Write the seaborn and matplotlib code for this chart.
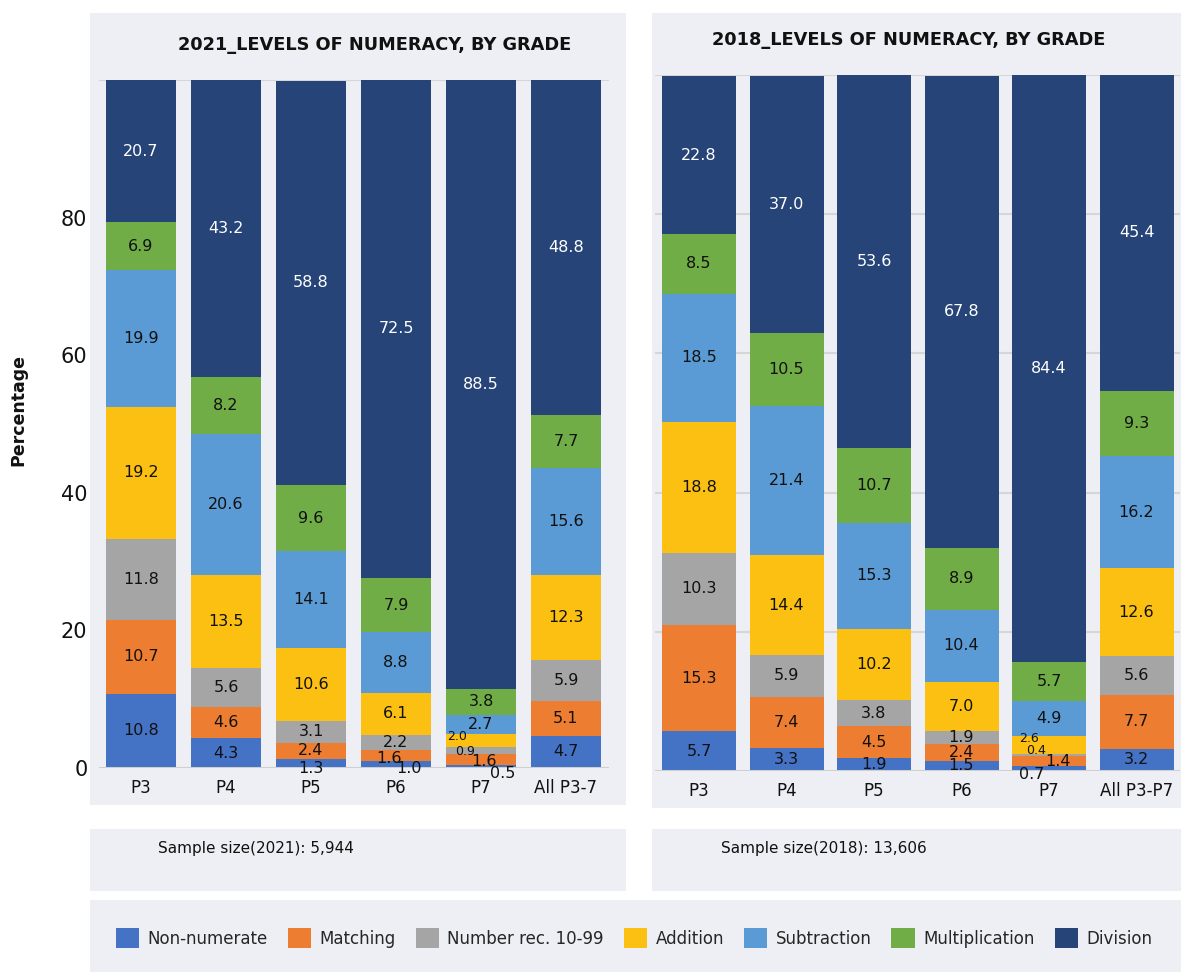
import numpy as np
import matplotlib
matplotlib.use("Agg")
import matplotlib.pyplot as plt
import seaborn as sns
from matplotlib.patches import Rectangle

# ---------------- data ----------------
grades_2021 = ["P3", "P4", "P5", "P6", "P7", "All P3-7"]
grades_2018 = ["P3", "P4", "P5", "P6", "P7", "All P3-P7"]
categories = ["Non-numerate", "Matching", "Number rec. 10-99", "Addition",
              "Subtraction", "Multiplication", "Division"]

non_numerate_2021 = [10.8, 4.3, 1.3, 1.0, 0.5, 4.7]
matching_2021 = [10.7, 4.6, 2.4, 1.6, 1.6, 5.1]
number_rec_2021 = [11.8, 5.6, 3.1, 2.2, 0.9, 5.9]
addition_2021 = [19.2, 13.5, 10.6, 6.1, 2.0, 12.3]
subtraction_2021 = [19.9, 20.6, 14.1, 8.8, 2.7, 15.6]
multiplication_2021 = [6.9, 8.2, 9.6, 7.9, 3.8, 7.7]
division_2021 = [20.7, 43.2, 58.8, 72.5, 88.5, 48.8]

non_numerate_2018 = [5.7, 3.3, 1.9, 1.5, 0.7, 3.2]
matching_2018 = [15.3, 7.4, 4.5, 2.4, 1.4, 7.7]
number_rec_2018 = [10.3, 5.9, 3.8, 1.9, 0.4, 5.6]
addition_2018 = [18.8, 14.4, 10.2, 7.0, 2.6, 12.6]
subtraction_2018 = [18.5, 21.4, 15.3, 10.4, 4.9, 16.2]
multiplication_2018 = [8.5, 10.5, 10.7, 8.9, 5.7, 9.3]
division_2018 = [22.8, 37.0, 53.6, 67.8, 84.4, 45.4]

yticks_2021 = [0, 20, 40, 60, 80]
title_2021 = "2021_LEVELS OF NUMERACY, BY GRADE"
title_2018 = "2018_LEVELS OF NUMERACY, BY GRADE"
sample_2021 = "Sample size(2021): 5,944"
sample_2018 = "Sample size(2018): 13,606"

series_2021 = [non_numerate_2021, matching_2021, number_rec_2021, addition_2021,
               subtraction_2021, multiplication_2021, division_2021]
series_2018 = [non_numerate_2018, matching_2018, number_rec_2018, addition_2018,
               subtraction_2018, multiplication_2018, division_2018]

# ---------------- style ----------------
colors = ["#4472C4", "#ED7D31", "#A5A5A5", "#FBC012", "#5B9BD5", "#70AD47", "#264478"]
panel = "#EEEFF4"
gridc = "#D6D6D6"

sns.set_theme(style="white")
plt.rcParams["font.family"] = ["DejaVu Sans"]

W, H = 1181, 973
fig = plt.figure(figsize=(W / 100, H / 100), dpi=100)
fig.patch.set_facecolor("white")


def fx(px):
    return px / W


def fy(py):
    return 1 - py / H


# background boxes
for (x0, y0, x1, y1) in [(90, 13, 626, 805), (652, 13, 1181, 808),
                         (90, 829, 626, 891), (652, 829, 1181, 891),
                         (90, 900, 1181, 972)]:
    fig.patches.append(Rectangle((fx(x0), fy(y1)), (x1 - x0) / W, (y1 - y0) / H,
                                 transform=fig.transFigure, facecolor=panel,
                                 edgecolor="none", zorder=-10))

ax1 = fig.add_axes([fx(98.5), fy(768), 510 / W, 688 / H])
ax2 = fig.add_axes([fx(655.25), fy(771), 525 / W, 696 / H])

# label offsets (pixels) for small segments, mimicking the original placement
offsets_2021 = {(2, 0): (0, -5), (3, 0): (13, -4), (3, 1): (-7, -3),
                (4, 0): (22, -7), (4, 1): (3, -2), (4, 2): (-16, -1), (4, 3): (-24, 4)}
offsets_2018 = {(4, 0): (-17, -6), (4, 1): (9, 0), (4, 2): (-13, 4), (4, 3): (-20, 6)}
small_2021 = {(4, 2), (4, 3)}
small_2018 = {(4, 2), (4, 3)}


def draw(ax, grades, series, width, offsets, small, grid):
    ax.set_facecolor("none")
    bottom = np.zeros(len(grades))
    for ci, (cat, vals, col) in enumerate(zip(categories, series, colors)):
        vals = np.asarray(vals, dtype=float)
        sns.barplot(x=grades, y=vals, bottom=bottom.copy(), color=col, width=width,
                    order=grades, saturation=1, ax=ax, label=cat,
                    edgecolor="none", linewidth=0, zorder=3, errorbar=None)
        cont = ax.containers[-1]
        for gi, rect in enumerate(cont):
            xc = rect.get_x() + rect.get_width() / 2
            yc = rect.get_y() + rect.get_height() / 2
            dx, dy = offsets.get((gi, ci), (0, 0))
            ax.annotate(f"{vals[gi]:.1f}", (xc, yc), xytext=(dx, dy),
                        textcoords="offset pixels", ha="center", va="center",
                        fontsize=9 if (gi, ci) in small else 11.5,
                        color="white" if cat == "Division" else "#111111",
                        zorder=5, annotation_clip=False)
        bottom += vals
    if ax.get_legend() is not None:
        ax.get_legend().remove()
    ax.set_xlim(-0.5, len(grades) - 0.5)
    ax.set_ylim(0, 100)
    for s in ax.spines.values():
        s.set_visible(False)
    lines = [20, 40, 60, 80, 100] if grid else [100]
    for v in lines:
        ax.axhline(v, color=gridc, lw=1.5, zorder=1)
    ax.axhline(0, color="#CFCFCF", lw=2.2, zorder=4)
    ax.set_xlabel("")
    ax.set_ylabel("")
    ax.tick_params(axis="x", length=0, pad=8, labelsize=12, labelcolor="#111111")


draw(ax1, grades_2021, series_2021, 70 / 85, offsets_2021, small_2021, grid=False)
draw(ax2, grades_2018, series_2018, 74 / 87.5, offsets_2018, small_2018, grid=True)

ax1.set_yticks(yticks_2021)
ax1.set_yticklabels([str(v) for v in yticks_2021])
ax1.tick_params(axis="y", length=0, pad=8, labelsize=15, labelcolor="#111111")
ax2.set_yticks([])

fig.text(fx(18), fy(410), "Percentage", rotation=90, ha="center", va="center",
         fontsize=12.5, fontweight="bold", color="#111111")

fig.text(fx(375), fy(45), title_2021, ha="center", va="center", fontsize=12.8,
         fontweight="bold", color="#111111")
fig.text(fx(909), fy(40), title_2018, ha="center", va="center", fontsize=12.8,
         fontweight="bold", color="#111111")

fig.text(fx(158), fy(849), sample_2021, ha="left", va="center", fontsize=11,
         color="#111111")
fig.text(fx(721), fy(849), sample_2018, ha="left", va="center", fontsize=11,
         color="#111111")

handles = [ax1.containers[i] for i in range(len(categories))]
fig.legend(handles, categories, loc="center", bbox_to_anchor=(fx(634), fy(938)),
           ncol=7, frameon=False, fontsize=12, handlelength=1.4, handleheight=1.4,
           handletextpad=0.5, columnspacing=1.2, borderaxespad=0)

fig.savefig("out.png", dpi=100, facecolor="white")
